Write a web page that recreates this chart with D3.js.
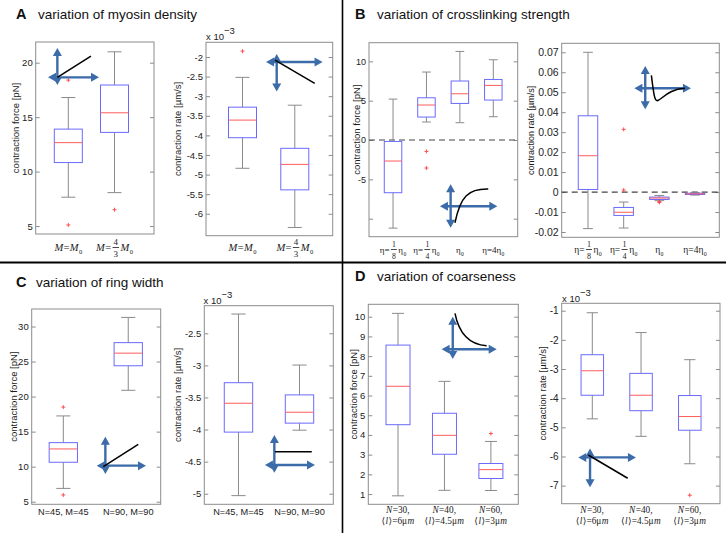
<!DOCTYPE html>
<html><head><meta charset="utf-8">
<script src="https://cdn.jsdelivr.net/npm/d3@7"></script>
<style>body{margin:0;background:#fff}</style>
</head><body>
<svg id="c" width="726" height="533" xmlns="http://www.w3.org/2000/svg"></svg>
<script>
// ---------------- DATA ----------------
// each box: [whiskerLow, q1, median, q3, whiskerHigh]
const forceMyosin = [[7.65,10.83,12.66,13.9,16.8],[8.07,13.6,15.4,17.95,21.0]];
const forceMyosinOut = [[5.1,18.4],[6.5]];
const rateMyosin = [[-4.84,-4.06,-3.61,-3.28,-2.52],[-6.35,-5.39,-4.74,-4.33,-3.23]];
const rateMyosinOut = [[-1.85],[]];
const forceCrosslink = [[-11.2,-6.7,-2.67,-0.18,5.2],[2.29,2.92,4.45,5.37,8.64],[2.2,4.65,5.88,7.5,11.26],[2.96,5.08,6.94,7.7,10.2]];
const forceCrosslinkOut = [[],[-1.45,-3.56],[],[]];
const rateCrosslink = [[-0.0183,0.0013,0.0182,0.0382,0.07],[-0.018,-0.0117,-0.0101,-0.0077,-0.005],[-0.0043,-0.0037,-0.003,-0.0025,-0.0017],[-0.0015,-0.0012,-0.0009,-0.0006,-0.0003]];
const rateCrosslinkOut = [[],[0.0314,0.001],[-0.0052,-0.0048],[]];
const forceWidth = [[6.9,10.63,12.53,13.43,17.24],[20.9,24.4,26.2,27.7,31.3]];
const forceWidthOut = [[18.5,5.96],[]];
const rateWidth = [[-5.03,-4.04,-3.59,-3.27,-2.2],[-4.01,-3.9,-3.73,-3.46,-2.995]];
const rateWidthOut = [[],[]];
const forceCoarse = [[0.91,4.52,6.47,8.56,10.17],[1.19,3.02,3.98,5.1,6.72],[1.18,1.79,2.24,2.55,3.67]];
const forceCoarseOut = [[],[],[4.07]];
const rateCoarse = [[-4.71,-3.9,-3.06,-2.51,-1.07],[-5.31,-4.43,-3.9,-3.15,-1.75],[-6.25,-5.1,-4.63,-3.91,-2.68]];
const rateCoarseOut = [[],[],[-7.33]];

// tick values
const ticksForceA = [5,10,15,20];
const ticksRateA = [-6,-5.5,-5,-4.5,-4,-3.5,-3,-2.5,-2];
const ticksForceB = [-10,-5,0,5,10];
const ticksRateB = [-0.02,-0.01,0,0.01,0.02,0.03,0.04,0.05,0.06,0.07];
const ticksForceC = [5,10,15,20,25,30];
const ticksRateC = [-5,-4.5,-4,-3.5,-3,-2.5];
const ticksForceD = [1,2,3,4,5,6,7,8,9,10];
const ticksRateD = [-7,-6,-5,-4,-3,-2,-1];

// category labels (*x* italic, _x subscript, {a/b} fraction)
const labelsMyosin = [["*M*=*M*_0"],["*M*={4/3}*M*_0"]];
const labelsCrosslink = [["η={1/8}η_0"],["η={1/4}η_0"],["η_0"],["η=4η_0"]];
const labelsWidth = [["N=45, M=45"],["N=90, M=90"]];
const labelsCoarse = [["*N*=30,","⟨*l*⟩=6μ*m*"],["*N*=40,","⟨*l*⟩=4.5μ*m*"],["*N*=60,","⟨*l*⟩=3μ*m*"]];

const titles = [["A","variation of myosin density"],["B","variation of crosslinking strength"],["C","variation of ring width"],["D","variation of coarseness"]];
const yTitles = ["contraction force [pN]","contraction rate [µm/s]"];

// ---------------- LAYOUT ----------------
const SANS = "'Liberation Sans', Arial, Helvetica, sans-serif";
const SERIF = "'Liberation Serif', 'DejaVu Serif', 'Times New Roman', serif";
const svg = d3.select("#c");
svg.append("rect").attr("width",726).attr("height",533).attr("fill","#fff");

const panels = [
 {L:35.7,R:154,T:42,B:234,yDom:[4.27,21.9],xDom:[0.294,2.855],bw:28,data:forceMyosin,out:forceMyosinOut,ticks:ticksForceA,tf:9.5,labels:labelsMyosin,lab:{y:251,style:"math",fs:10.5},ylab:yTitles[0],ylx:15,
  inset:{arrows:[[0.183,0.031,0.183,0.224],[0.104,0.184,0.535,0.184]],curve:"L",pts:[[0.183,0.184],[0.467,0.073]]}},
 {L:206,R:332.7,T:42.3,B:235.7,yDom:[-6.56,-1.625],xDom:[0.302,2.725],bw:28,data:rateMyosin,out:rateMyosinOut,ticks:ticksRateA,tf:9.5,labels:labelsMyosin,lab:{y:251,style:"math",fs:10.5},ylab:yTitles[1],ylx:177,exp:[206,40],
  inset:{arrows:[[0.558,0.06,0.558,0.255],[0.474,0.102,0.92,0.102]],curve:"L",pts:[[0.545,0.092],[0.858,0.212]]}},
 {L:369,R:517.7,T:42.7,B:236.7,yDom:[-12.29,12.37],xDom:[0.281,4.73],bw:17.5,data:forceCrosslink,out:forceCrosslinkOut,ticks:ticksForceB,tf:9,fmt:d=>d===-10?"":String(d),zero:true,labels:labelsCrosslink,lab:{y:253,style:"math",fs:9},ylab:yTitles[0],ylx:356,
  inset:{arrows:[[0.549,0.73,0.549,0.954],[0.477,0.843,0.863,0.843]],curve:"C",pts:[[0.578,0.928],[0.615,0.79],[0.67,0.752],[0.802,0.754]]}},
 {L:561.7,R:719.3,T:43.3,B:237.3,yDom:[-0.02265,0.0745],xDom:[0.263,4.68],bw:19.5,data:rateCrosslink,out:rateCrosslinkOut,ticks:ticksRateB,tf:10.5,zero:true,labels:labelsCrosslink,lab:{y:253,style:"math",fs:9.5},ylab:yTitles[1],ylx:531,ylfs:9,
  inset:{arrows:[[0.53,0.117,0.53,0.34],[0.461,0.232,0.82,0.232]],curve:"C",pts:[[0.569,0.165],[0.585,0.27],[0.59,0.3],[0.61,0.295],[0.64,0.285],[0.68,0.236],[0.782,0.232]]}},
 {L:31.7,R:160.7,T:309,B:504.3,yDom:[4.63,32.5],xDom:[0.513,2.5],bw:28.3,data:forceWidth,out:forceWidthOut,ticks:ticksForceC,tf:9.5,labels:labelsWidth,lab:{y:515,style:"sans",fs:9.2},ylab:yTitles[0],ylx:13,
  inset:{arrows:[[0.571,0.654,0.571,0.845],[0.504,0.802,0.886,0.802]],curve:"L",pts:[[0.555,0.807],[0.826,0.693]]}},
 {L:204.3,R:333.3,T:305.7,B:504.3,yDom:[-5.165,-2.07],xDom:[0.44,2.554],bw:28.4,data:rateWidth,out:rateWidthOut,ticks:ticksRateC,tf:9.5,labels:labelsWidth,lab:{y:515,style:"sans",fs:9.2},ylab:yTitles[1],ylx:177,exp:[203.5,304],
  inset:{arrows:[[0.543,0.651,0.543,0.841],[0.47,0.802,0.858,0.802]],curve:"L",pts:[[0.548,0.735],[0.833,0.735]]}},
 {L:368.3,R:518.3,T:304.3,B:504.3,yDom:[0.48,10.63],xDom:[0.36,3.59],bw:24,data:forceCoarse,out:forceCoarseOut,ticks:ticksForceD,tf:9.5,labels:labelsCoarse,lab:{y:513,y2:523.5,style:"math",fs:9.3},ylab:yTitles[0],ylx:353,
  inset:{arrows:[[0.563,0.062,0.563,0.274],[0.489,0.225,0.856,0.225]],curve:"C",pts:[[0.578,0.045],[0.6,0.13],[0.66,0.2],[0.789,0.207]]}},
 {L:561.7,R:720,T:303.3,B:503.7,yDom:[-7.62,-0.746],xDom:[0.372,3.62],bw:22.5,data:rateCoarse,out:rateCoarseOut,ticks:ticksRateD,tf:10,labels:labelsCoarse,lab:{y:513,y2:523.5,style:"math",fs:9.3},ylab:yTitles[1],ylx:542,exp:[562,301.5],
  inset:{arrows:[[0.179,0.724,0.179,0.918],[0.105,0.769,0.469,0.769]],curve:"L",pts:[[0.168,0.757],[0.417,0.873]]}}
];

const AXC = "#8c8c8c";
const ARROW = "#3b6ba8";
const INK = "#1a1a1a";

function mathLabel(g, str, cx, y, fs) {
  const grp = g.append("g").attr("font-family", SERIF).attr("fill", INK);
  let x = 0;
  const re = /\{(\d+)\/(\d+)\}|_(\w)|\*([^*]+)\*|([^{_*]+)/g;
  let m;
  while ((m = re.exec(str))) {
    if (m[1]) {
      const f = fs*0.85;
      x += 1;
      const n = grp.append("text").attr("y", y-6.5).attr("font-size", f).attr("fill", INK).text(m[1]);
      const d = grp.append("text").attr("y", y+6).attr("font-size", f).attr("fill", INK).text(m[2]);
      const wn = n.node().getComputedTextLength(), wd = d.node().getComputedTextLength();
      const w = Math.max(wn, wd) + 2;
      n.attr("x", x + (w-wn)/2); d.attr("x", x + (w-wd)/2);
      grp.append("line").attr("x1", x).attr("x2", x+w).attr("y1", y-3.5).attr("y2", y-3.5).attr("stroke", INK).attr("stroke-width",0.8);
      x += w + 1.5;
    } else if (m[3]) {
      const t = grp.append("text").attr("x", x).attr("y", y+2.5).attr("font-size", fs*0.62).attr("fill", INK).text(m[3]);
      x += t.node().getComputedTextLength();
    } else if (m[4]) {
      const t = grp.append("text").attr("x", x).attr("y", y).attr("font-size", fs).attr("font-style","italic").attr("fill", INK).text(m[4]);
      x += t.node().getComputedTextLength() + 0.4;
    } else {
      const t = grp.append("text").attr("x", x).attr("y", y).attr("font-size", fs).attr("fill", INK).text(m[5]);
      x += t.node().getComputedTextLength() + 0.4;
    }
  }
  grp.attr("transform", `translate(${cx - x/2},0)`);
}

function arrowHead(g, x, y, ang) {
  const L = 8, W = 4.5;
  const ca = Math.cos(ang), sa = Math.sin(ang);
  const bx = x - L*ca, by = y - L*sa;
  g.append("path").attr("d", `M${x},${y}L${bx - W*sa},${by + W*ca}L${bx + W*sa},${by - W*ca}Z`).attr("fill", ARROW);
}

panels.forEach(p => {
  const g = svg.append("g");
  const x = d3.scaleLinear().domain(p.xDom).range([p.L, p.R]);
  const y = d3.scaleLinear().domain(p.yDom).range([p.B, p.T]);
  const fx = f => p.L + f*(p.R-p.L), fy = f => p.T + f*(p.B-p.T);

  g.append("rect").attr("x",p.L).attr("y",p.T).attr("width",p.R-p.L).attr("height",p.B-p.T)
    .attr("fill","#fff").attr("stroke",AXC).attr("stroke-width",1);

  const ax = g.append("g").attr("transform",`translate(${p.L},0)`)
    .call(d3.axisLeft(y).tickValues(p.ticks).tickSize(-4).tickPadding(3).tickFormat(p.fmt || (d=>String(d))));
  ax.select(".domain").remove();
  ax.attr("font-family", SANS).attr("font-size", p.tf);
  ax.selectAll("line").attr("stroke", AXC);
  ax.selectAll("text").attr("fill","#222");
  const ar = g.append("g").attr("transform",`translate(${p.R},0)`)
    .call(d3.axisRight(y).tickValues(p.ticks).tickSize(-4).tickFormat(""));
  ar.select(".domain").remove();
  ar.selectAll("line").attr("stroke", AXC);

  if (p.zero) {
    g.append("line").attr("x1",p.L).attr("x2",p.R).attr("y1",y(0)).attr("y2",y(0))
      .attr("stroke","#444").attr("stroke-width",1.2).attr("stroke-dasharray","6,4");
  }

  // boxes
  p.data.forEach((s, i) => {
    const cx = x(i+1), hw = p.bw/2, cw = p.bw/4;
    const [lo,q1,md,q3,hi] = s;
    const bg = g.append("g");
    bg.append("line").attr("x1",cx).attr("x2",cx).attr("y1",y(q3)).attr("y2",y(hi)).attr("stroke","#8a8a8a");
    bg.append("line").attr("x1",cx).attr("x2",cx).attr("y1",y(q1)).attr("y2",y(lo)).attr("stroke","#8a8a8a");
    bg.append("line").attr("x1",cx-cw).attr("x2",cx+cw).attr("y1",y(hi)).attr("y2",y(hi)).attr("stroke","#8a8a8a");
    bg.append("line").attr("x1",cx-cw).attr("x2",cx+cw).attr("y1",y(lo)).attr("y2",y(lo)).attr("stroke","#8a8a8a");
    bg.append("rect").attr("x",cx-hw).attr("y",y(q3)).attr("width",p.bw).attr("height",Math.max(0.5,y(q1)-y(q3)))
      .attr("fill","none").attr("stroke","#6a6aff").attr("stroke-width",1);
    bg.append("line").attr("x1",cx-hw).attr("x2",cx+hw).attr("y1",y(md)).attr("y2",y(md)).attr("stroke","#ff5c5c");
    p.out[i].forEach(v => {
      const oy = y(v);
      bg.append("path").attr("d",`M${cx-2},${oy}H${cx+2}M${cx},${oy-2}V${oy+2}`).attr("stroke","#ff4040").attr("stroke-width",0.9);
    });
  });

  // inset sketch
  const ins = g.append("g");
  p.inset.arrows.forEach(a => {
    const x1 = fx(a[0]), y1 = fy(a[1]), x2 = fx(a[2]), y2 = fy(a[3]);
    const ang = Math.atan2(y2-y1, x2-x1);
    ins.append("line").attr("x1",x1+5*Math.cos(ang)).attr("y1",y1+5*Math.sin(ang)).attr("x2",x2-5*Math.cos(ang)).attr("y2",y2-5*Math.sin(ang))
      .attr("stroke",ARROW).attr("stroke-width",2.4);
    arrowHead(ins, x2, y2, ang);
    arrowHead(ins, x1, y1, ang + Math.PI);
  });
  const P = p.inset.pts.map(q => [fx(q[0]), fy(q[1])]);
  let d = `M${P[0][0]},${P[0][1]}`;
  if (p.inset.curve === "L") d += `L${P[1][0]},${P[1][1]}`;
  else for (let k = 1; k + 2 < P.length; k += 3) d += `C${P[k]} ${P[k+1]} ${P[k+2]}`;
  ins.append("path").attr("d", d).attr("fill","none").attr("stroke","#000").attr("stroke-width",1.5);

  // category labels
  p.labels.forEach((lab, i) => {
    const cx = x(i+1);
    if (p.lab.style === "sans") {
      g.append("text").attr("x",cx).attr("y",p.lab.y).attr("text-anchor","middle")
        .attr("font-family",SANS).attr("font-size",p.lab.fs).attr("fill",INK).text(lab[0]);
    } else {
      mathLabel(g, lab[0], cx, p.lab.y, p.lab.fs);
      if (lab[1]) mathLabel(g, lab[1], cx, p.lab.y2, p.lab.fs);
    }
  });

  // y title
  const yc = (p.T + p.B)/2 - 10;
  g.append("text").attr("transform",`translate(${p.ylx},${yc}) rotate(-90)`).attr("text-anchor","middle")
    .attr("dominant-baseline","central").attr("font-family",SANS).attr("font-size",p.ylfs || 9.5).attr("fill",INK).text(p.ylab);

  // exponent
  if (p.exp) {
    const t = g.append("text").attr("x",p.exp[0]).attr("y",p.exp[1]).attr("font-family",SANS).attr("font-size",9.5).attr("fill",INK);
    t.append("tspan").text("x 10");
    t.append("tspan").attr("dy",-6).attr("font-size",9.5).text("−3");
  }
});

// panel titles
const titlePos = [[16,38,19],[355,377,19],[16,36,286.5],[355,377,280.5]];
titles.forEach((t, i) => {
  const [lx, tx, ty] = titlePos[i];
  svg.append("text").attr("x",lx).attr("y",ty).attr("font-family",SANS).attr("font-weight","bold").attr("font-size",14.5).attr("fill","#111").text(t[0]);
  svg.append("text").attr("x",tx).attr("y",ty).attr("font-family",SANS).attr("font-size",13.5).attr("fill","#111").text(t[1]);
});

// dividers
svg.append("line").attr("x1",0).attr("x2",726).attr("y1",262.5).attr("y2",262.5).attr("stroke","#000").attr("stroke-width",2);
svg.append("line").attr("x1",342.5).attr("x2",342.5).attr("y1",0).attr("y2",533).attr("stroke","#000").attr("stroke-width",1.6);
</script>
</body></html>
